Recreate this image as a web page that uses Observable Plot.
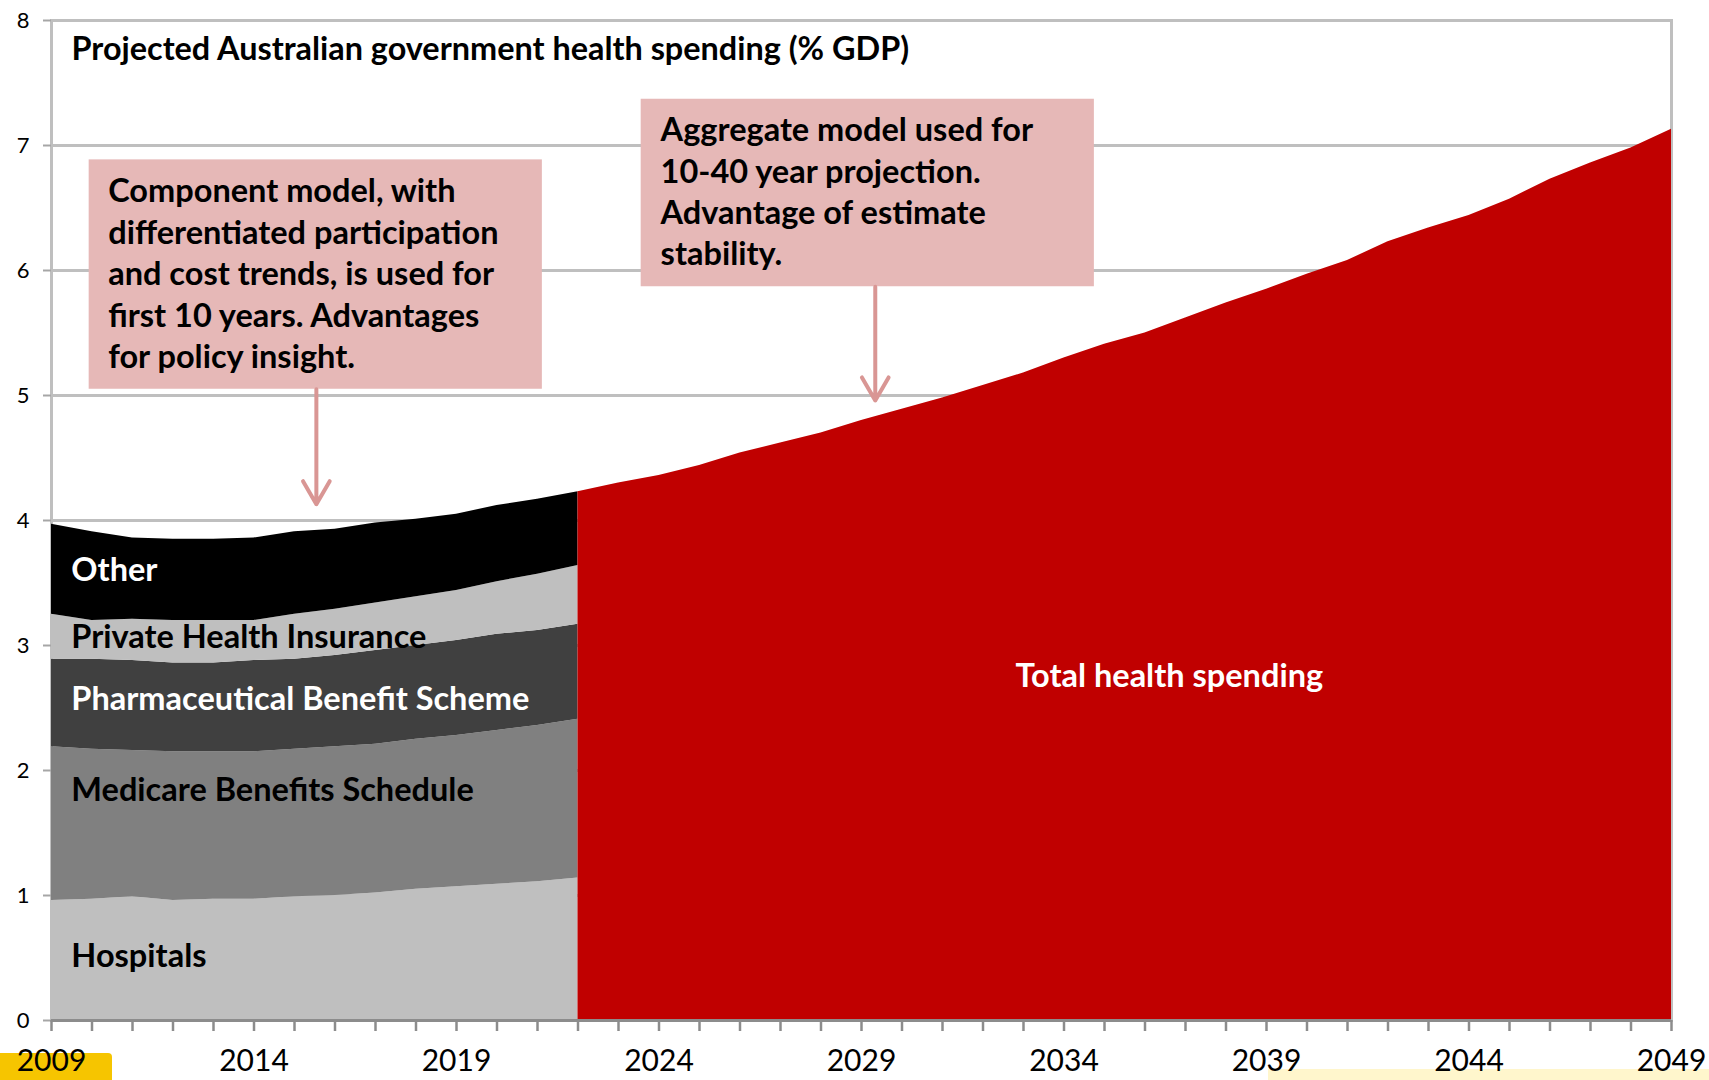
<!DOCTYPE html>
<html>
<head>
<meta charset="utf-8">
<script src="https://cdn.jsdelivr.net/npm/d3@7"></script>
<script src="https://cdn.jsdelivr.net/npm/@observablehq/plot@0.6"></script>
<style>
  html, body { margin: 0; padding: 0; background: #fff; overflow: hidden; }
  #wrap { position: relative; width: 1709px; height: 1080px; }
  #chart { position: absolute; left: 0; top: 0; }
  .deco1 { position: absolute; left: 0; top: 1053px; width: 112px; height: 27px; background: #F6C500; border-radius: 0 4px 0 0; }
  .deco2 { position: absolute; left: 1268px; top: 1069px; width: 441px; height: 11px; background: #FFF6CC; }
</style>
</head>
<body>
<div id="wrap">
  <div class="deco1"></div>
  <div class="deco2"></div>
  <div id="chart"></div>
</div>
<script>
// ---- Data ----
const componentYears = [2009, 2010, 2011, 2012, 2013, 2014, 2015, 2016, 2017, 2018, 2019, 2020, 2021, 2022];
const hospitals = [0.96, 0.97, 0.99, 0.96, 0.97, 0.97, 0.99, 1.00, 1.02, 1.05, 1.07, 1.09, 1.11, 1.14];
const medicare  = [1.23, 1.20, 1.17, 1.19, 1.18, 1.18, 1.18, 1.19, 1.19, 1.20, 1.21, 1.23, 1.25, 1.27];
const pharma    = [0.70, 0.72, 0.72, 0.71, 0.71, 0.73, 0.72, 0.73, 0.75, 0.75, 0.76, 0.77, 0.76, 0.76];
const privateHI = [0.36, 0.31, 0.33, 0.34, 0.34, 0.32, 0.36, 0.37, 0.38, 0.39, 0.40, 0.42, 0.45, 0.47];
const other     = [0.72, 0.71, 0.65, 0.65, 0.65, 0.66, 0.66, 0.64, 0.64, 0.62, 0.61, 0.61, 0.60, 0.59];

const totalYears = [2022, 2023, 2024, 2025, 2026, 2027, 2028, 2029, 2030, 2031, 2032, 2033, 2034, 2035,
                    2036, 2037, 2038, 2039, 2040, 2041, 2042, 2043, 2044, 2045, 2046, 2047, 2048, 2049];
const totalSpending = [4.23, 4.30, 4.36, 4.44, 4.54, 4.62, 4.70, 4.80, 4.89, 4.98, 5.08, 5.18, 5.30, 5.41,
                       5.50, 5.62, 5.74, 5.85, 5.97, 6.08, 6.23, 6.34, 6.44, 6.57, 6.73, 6.86, 6.98, 7.13];

const seriesNames = ["Hospitals", "Medicare Benefits Schedule", "Pharmaceutical Benefit Scheme", "Private Health Insurance", "Other"];
const seriesValues = [hospitals, medicare, pharma, privateHI, other];
const seriesColors = ["#BFBFBF", "#808080", "#404040", "#BFBFBF", "#000000"];

const yTicks = [0, 1, 2, 3, 4, 5, 6, 7, 8];
const xTickLabels = [2009, 2014, 2019, 2024, 2029, 2034, 2039, 2044, 2049];

const titleText = "Projected Australian government health spending (% GDP)";

// ---- Annotation layout (positions in data units) ----
const boxes = [
  {x1: 2009.93, x2: 2021.12, y1: 5.05, y2: 6.885,
   tx: 2010.40, ty: 6.78,
   text: "Component model, with\ndifferentiated participation\nand cost trends, is used for\nfirst 10 years. Advantages\nfor policy insight.",
   ax: 2015.54, ay1: 5.05, ay2: 4.13},
  {x1: 2023.56, x2: 2034.75, y1: 5.87, y2: 7.37,
   tx: 2024.04, ty: 7.27,
   text: "Aggregate model used for\n10-40 year projection.\nAdvantage of estimate\nstability.",
   ax: 2029.34, ay1: 5.87, ay2: 4.96}
];
const seriesLabels = [
  {name: "Other", x: 2009.49, y: 3.60, fill: "#fff"},
  {name: "Private Health Insurance", x: 2009.49, y: 3.06, fill: "#000"},
  {name: "Pharmaceutical Benefit Scheme", x: 2009.49, y: 2.57, fill: "#fff"},
  {name: "Medicare Benefits Schedule", x: 2009.49, y: 1.84, fill: "#000"},
  {name: "Hospitals", x: 2009.49, y: 0.51, fill: "#000"}
];
const totalLabel = {name: "Total health spending", x: 2036.6, y: 2.75};

// ---- Build tables ----
const stacked = [];
seriesNames.forEach((s, si) => {
  componentYears.forEach((yr, i) => stacked.push({year: yr, series: s, value: seriesValues[si][i]}));
});
const total = totalYears.map((yr, i) => ({year: yr, value: totalSpending[i]}));
const allYears = Array.from(new Set([...componentYears, ...totalYears]));

const FONT = "Lato, 'Open Sans', sans-serif";
const LABEL_SIZE = 32.5;

const chart = Plot.plot({
  width: 1709,
  height: 1080,
  marginLeft: 51,
  marginRight: 38,
  marginTop: 20,
  marginBottom: 60,
  style: {fontFamily: FONT, background: "transparent", color: "#000", overflow: "visible"},
  x: {domain: [2009, 2049], type: "linear"},
  y: {domain: [0, 8]},
  color: {domain: seriesNames, range: seriesColors},
  marks: [
    Plot.gridY(yTicks, {stroke: "#BFBFBF", strokeOpacity: 1, strokeWidth: 3}),
    Plot.frame({stroke: "#BFBFBF", strokeWidth: 3}),
    Plot.areaY(stacked, {x: "year", y: "value", fill: "series", order: seriesNames}),
    Plot.areaY(total, {x: "year", y: "value", fill: "#C00000"}),
    Plot.ruleY([0], {stroke: "#8C8C8C", strokeWidth: 3}),
    Plot.axisY({ticks: yTicks, tickSize: 8, tickPadding: 14, fontSize: 22, stroke: "#A6A6A6", strokeWidth: 2, fill: "#000", label: null}),
    Plot.axisX({ticks: allYears, tickSize: 11, tickPadding: 18, fontSize: 30, stroke: "#8C8C8C", strokeWidth: 2.5, fill: "#000",
                tickFormat: d => xTickLabels.includes(d) ? String(d) : "", label: null}),
    // annotation boxes
    Plot.rect(boxes, {x1: "x1", x2: "x2", y1: "y1", y2: "y2", fill: "#E6B8B7"}),
    Plot.arrow(boxes, {x1: "ax", x2: "ax", y1: "ay1", y2: "ay2", stroke: "#D99694", strokeWidth: 4, headLength: 10, bend: 0}),
    Plot.text(boxes, {x: "tx", y: "ty", text: "text", textAnchor: "start", lineAnchor: "top", fontSize: LABEL_SIZE, fontWeight: "bold", lineHeight: 1.274, fill: "#000"}),
    // title
    Plot.text([titleText], {frameAnchor: "top-left", dx: 20, dy: 16, lineAnchor: "top", textAnchor: "start", fontSize: 32.4, fontWeight: "bold", fill: "#000"}),
    // series labels
    Plot.text(seriesLabels, {x: "x", y: "y", text: "name", fill: "fill", textAnchor: "start", lineAnchor: "middle", fontSize: LABEL_SIZE, fontWeight: "bold"}),
    Plot.text([totalLabel], {x: "x", y: "y", text: "name", fill: "#fff", textAnchor: "middle", lineAnchor: "middle", fontSize: LABEL_SIZE, fontWeight: "bold"})
  ]
});
document.getElementById("chart").appendChild(chart);
</script>
</body>
</html>
